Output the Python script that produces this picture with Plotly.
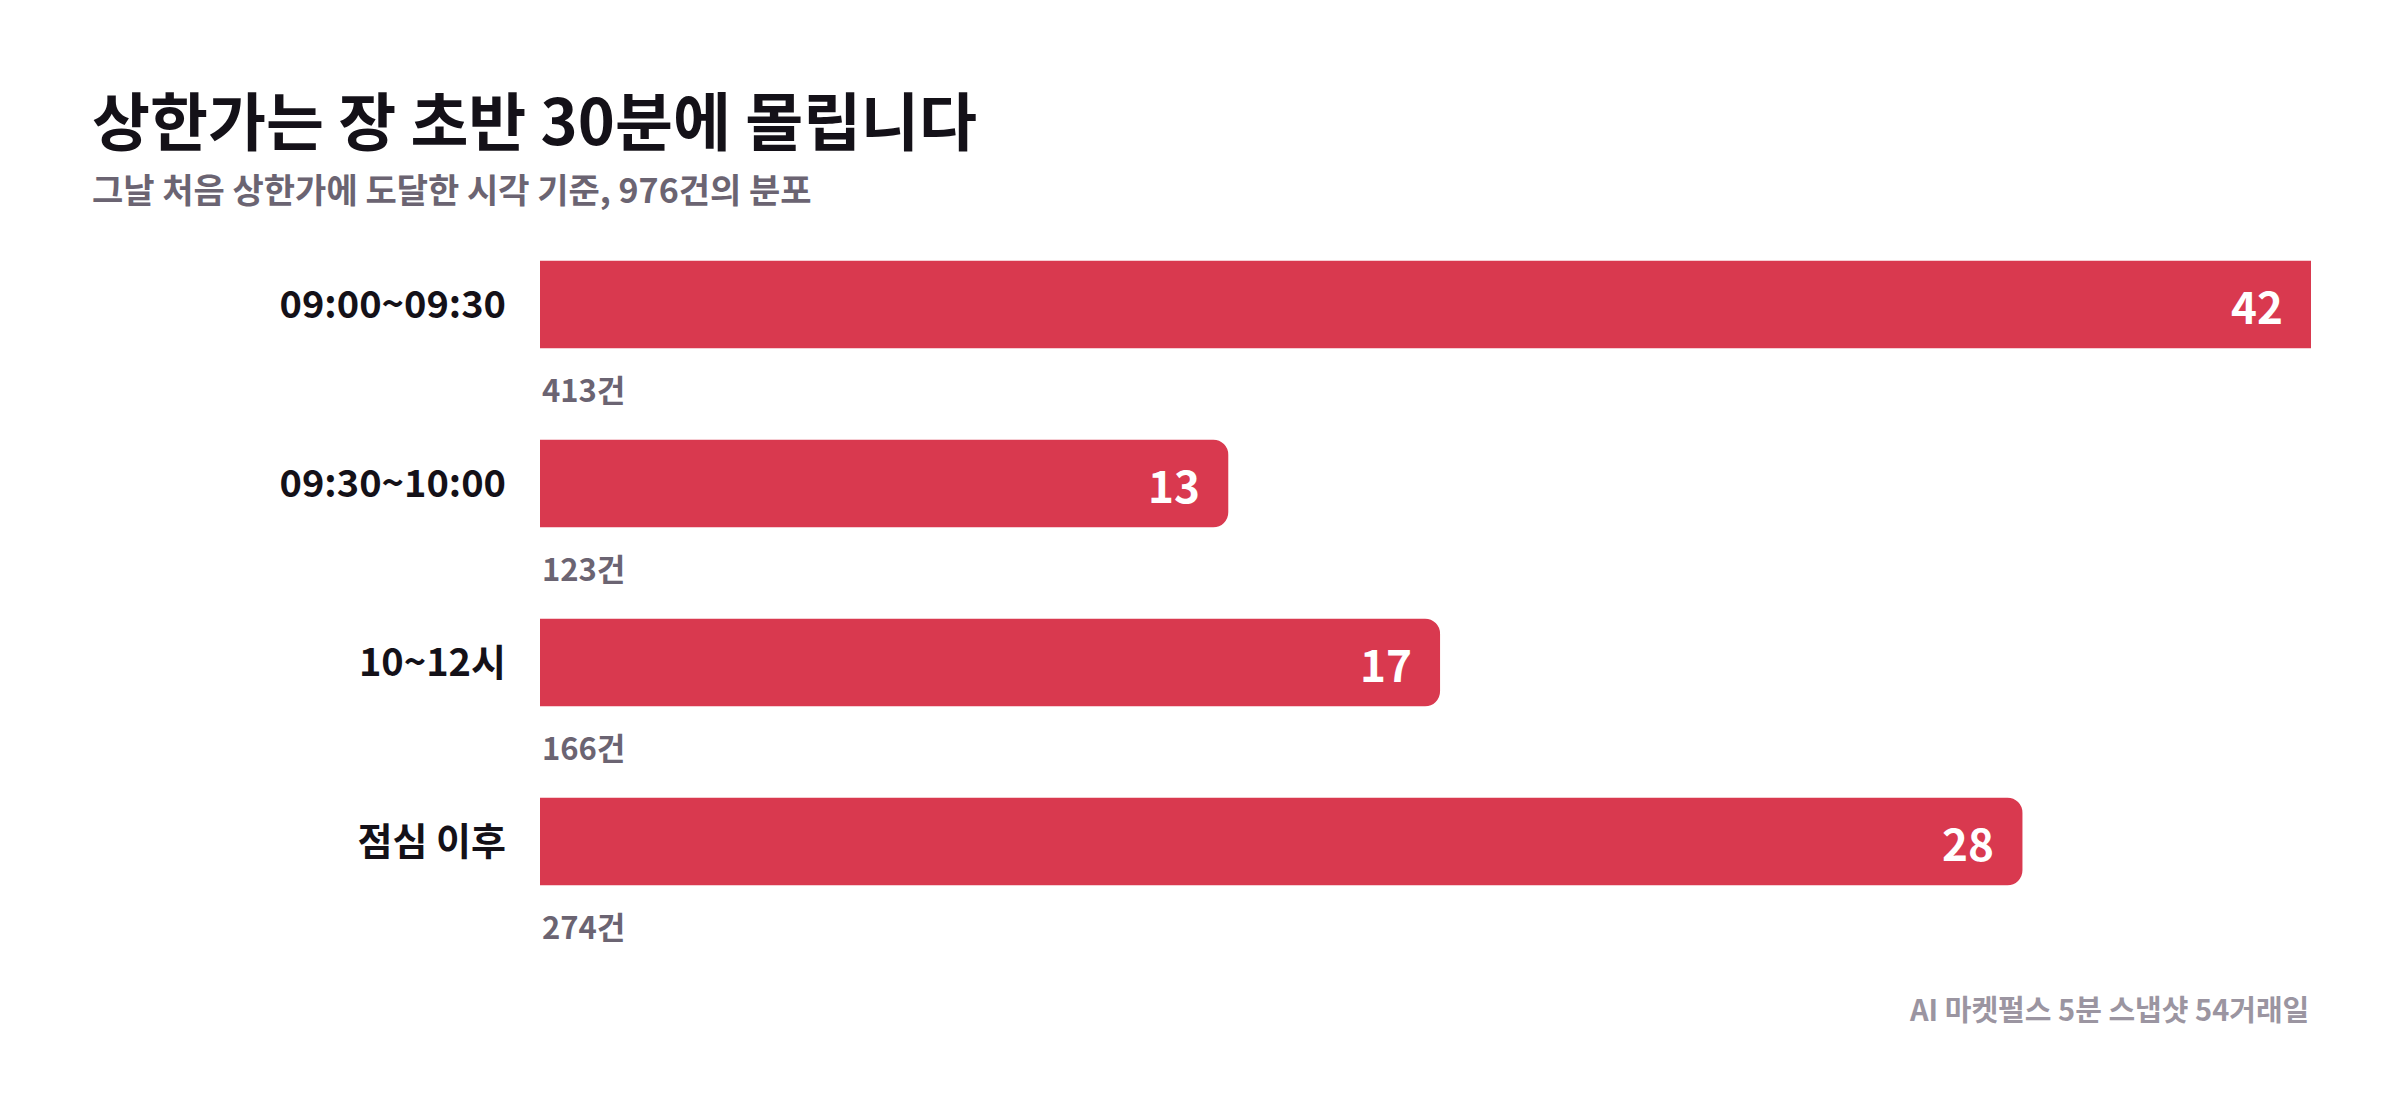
import plotly.graph_objects as go

# ---- data ----
categories = ["09:00~09:30", "09:30~10:00", "10~12시", "점심 이후"]
shares = [42, 13, 17, 28]          # percent of first limit-up hits
counts = [413, 123, 166, 274]      # number of cases
count_labels = [f"{c}건" for c in counts]

title_text = "상한가는 장 초반 30분에 몰립니다"
subtitle_text = "그날 처음 상한가에 도달한 시각 기준, 976건의 분포"
footnote_text = "AI 마켓펄스 5분 스냅샷 54거래일"

# ---- styling / layout (page pixel coordinates; page body has 8px margin) ----
OFF = 8
W, H = 2400 - 2 * OFF, 1108 - 2 * OFF
PLOT_L, PLOT_R, PLOT_T, PLOT_B = 540, 2311, 215, 931   # page coords
L = PLOT_L - OFF
R = W - (PLOT_R - OFF)
T = PLOT_T - OFF
B = H - (PLOT_B - OFF)
PW, PH = W - L - R, H - T - B
XMAX = 33.45
FONT = "Noto Sans CJK KR, Noto Sans, sans-serif"
BAR_COLOR = "#d9394f"


def px_x(px):
    return (px - OFF - L) / PW


def px_y(py):
    return (H - B - (py - OFF)) / PH


fig = go.Figure(
    go.Bar(
        x=shares,
        y=categories,
        orientation="h",
        marker=dict(color=BAR_COLOR, line=dict(width=0)),
        hoverinfo="skip",
    )
)

annotations = []
for cat, v, cl in zip(categories, shares, count_labels):
    annotations.append(dict(
        x=min(v, XMAX), y=cat, xref="x", yref="y", text=f"{v}",
        showarrow=False, xanchor="right", yanchor="middle", xshift=-26,
        font=dict(family=FONT, size=44, color="white", weight="bold"),
    ))
    annotations.append(dict(
        x=0, y=cat, xref="x", yref="y", text=cl,
        showarrow=False, xanchor="left", yanchor="middle", yshift=-84,
        font=dict(family=FONT, size=31, color="#6b6472", weight="bold"),
    ))

annotations += [
    dict(x=px_x(90), y=px_y(118), xref="paper", yref="paper", text=title_text,
         showarrow=False, xanchor="left", yanchor="middle",
         font=dict(family=FONT, size=63, color="#141118", weight="bold")),
    dict(x=px_x(90), y=px_y(189), xref="paper", yref="paper", text=subtitle_text,
         showarrow=False, xanchor="left", yanchor="middle",
         font=dict(family=FONT, size=34, color="#6b6472", weight="bold")),
    dict(x=1, y=px_y(1008), xref="paper", yref="paper", text=footnote_text,
         showarrow=False, xanchor="right", yanchor="middle",
         font=dict(family=FONT, size=29, color="#9b95a1", weight="bold")),
]

fig.update_layout(
    width=W, height=H,
    margin=dict(l=L, r=R, t=T, b=B, autoexpand=False),
    paper_bgcolor="white", plot_bgcolor="white",
    showlegend=False,
    bargap=0.51,
    barcornerradius=15,
    annotations=annotations,
    xaxis=dict(range=[0, XMAX], visible=False, fixedrange=True),
    yaxis=dict(
        type="category", categoryorder="array", categoryarray=categories,
        range=[3.5, -0.5], showgrid=False, zeroline=False, showline=False,
        ticks="", ticklabelstandoff=33,
        tickfont=dict(family=FONT, size=38, color="#141118", weight="bold"),
        fixedrange=True,
    ),
)

fig.write_html("out.html", config={"displayModeBar": False})
